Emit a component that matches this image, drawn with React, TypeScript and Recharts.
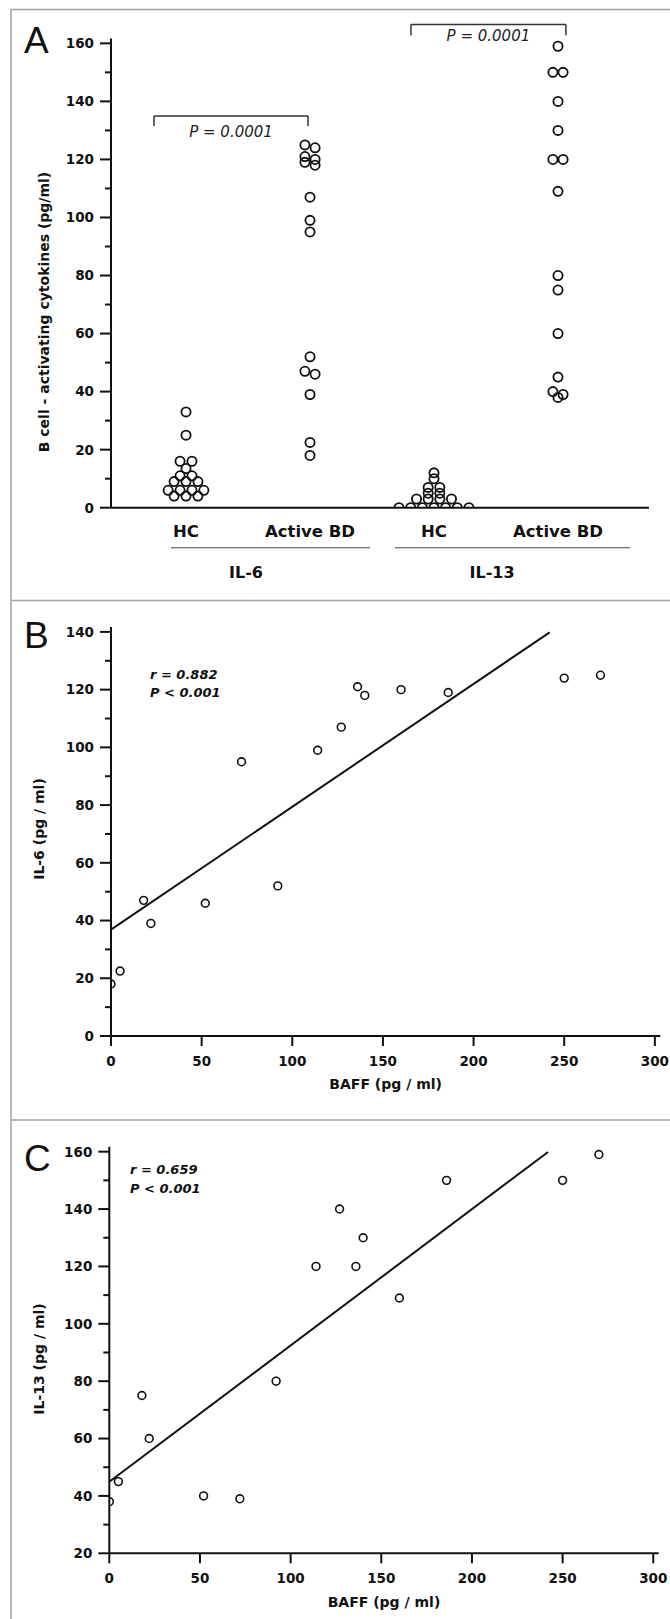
import React from 'react';
import {
  ScatterChart,
  Scatter,
  XAxis,
  YAxis,
  ReferenceLine,
  ReferenceDot,
} from 'recharts';

// panel A groups
const GROUP_LABELS = ['HC', 'Active BD', 'HC', 'Active BD'];
const CYTOKINES = ['IL-6', 'IL-13'];
const P_LABELS = ['P = 0.0001', 'P = 0.0001'];

// healthy controls (pg/ml)
const IL6_HC = [33, 25, 16, 16, 13.5, 11, 11, 9, 9, 9, 6, 6, 6, 6, 4, 4, 4];
const IL13_HC = [12, 10, 7, 7, 5, 5, 3, 3, 3, 3, 0, 0, 0, 0, 0, 0, 0];

// active BD patients, same order in every array
const BAFF = [0, 5, 18, 22, 52, 72, 92, 114, 127, 136, 140, 160, 186, 250, 270];
const IL6_BD = [18, 22.5, 47, 39, 46, 95, 52, 99, 107, 121, 118, 120, 119, 124, 125];
const IL13_BD = [38, 45, 75, 60, 40, 39, 80, 120, 140, 120, 130, 109, 150, 150, 159];

const STATS_B = ['r = 0.882', 'P < 0.001'];
const STATS_C = ['r = 0.659', 'P < 0.001'];

const TICKS_A = [0, 10, 20, 30, 40, 50, 60, 70, 80, 90, 100, 110, 120, 130, 140, 150, 160];
const TICKS_B = [0, 10, 20, 30, 40, 50, 60, 70, 80, 90, 100, 110, 120, 130, 140];
const TICKS_C = [20, 30, 40, 50, 60, 70, 80, 90, 100, 110, 120, 130, 140, 150, 160];
const TICKS_BAFF = [0, 50, 100, 150, 200, 250, 300];
const FIT_END = 242;

const FONT = '"DejaVu Sans", Arial, sans-serif';
const INK = '#111';

// rows of close values are spread side by side, centred on the group
function swarm(values: number[], group: number, step: number, tol = 2) {
  const sorted = [...values].sort((a, b) => b - a);
  const rows: number[][] = [];
  for (const v of sorted) {
    const row = rows[rows.length - 1];
    if (row && row[0] - v < tol) row.push(v);
    else rows.push([v]);
  }
  return rows.flatMap((row) =>
    row.map((v, i) => ({ x: group + (i - (row.length - 1) / 2) * step, y: v }))
  );
}

function fit(xs: number[], ys: number[]) {
  const n = xs.length;
  const mx = xs.reduce((s, v) => s + v, 0) / n;
  const my = ys.reduce((s, v) => s + v, 0) / n;
  let sxy = 0;
  let sxx = 0;
  xs.forEach((x, i) => {
    sxy += (x - mx) * (ys[i] - my);
    sxx += (x - mx) * (x - mx);
  });
  const b = sxy / sxx;
  return { a: my - b * mx, b };
}

const panelA = [
  ...swarm(IL6_HC, 1, 0.096),
  ...swarm(IL6_BD, 2, 0.082),
  ...swarm(IL13_HC, 3, 0.094),
  ...swarm(IL13_BD, 4, 0.082),
];
const panelB = BAFF.map((x, i) => ({ x, y: IL6_BD[i] }));
const panelC = BAFF.map((x, i) => ({ x, y: IL13_BD[i] }));
const fitB = fit(BAFF, IL6_BD);
const fitC = fit(BAFF, IL13_BD);

const YTick = (props: any) => {
  const { x, y, payload } = props;
  const v = payload.value;
  const major = v % 20 === 0;
  return (
    <g>
      <line x1={x - (major ? 11 : 6)} x2={x} y1={y} y2={y} stroke="#111" strokeWidth={2} />
      {major && (
        <text
          x={x - 17}
          y={y}
          dy="0.36em"
          textAnchor="end"
          fill={INK}
          fontSize={13.5}
          fontWeight="bold"
          fontFamily={FONT}
        >
          {v}
        </text>
      )}
    </g>
  );
};

const GroupTick = (props: any) => {
  const { x, y, payload } = props;
  return (
    <text
      x={x}
      y={y + 29}
      textAnchor="middle"
      fill={INK}
      fontSize={16.5}
      fontWeight="bold"
      fontFamily={FONT}
    >
      {GROUP_LABELS[payload.value - 1]}
    </text>
  );
};

const circleShape = (r: number, w: number) => (props: any) => (
  <circle cx={props.cx} cy={props.cy} r={r} fill="none" stroke={INK} strokeWidth={w} />
);

const axisLine = { stroke: '#111', strokeWidth: 2 };
const tickText = { fill: INK, fontSize: 13.5, fontWeight: 'bold', fontFamily: FONT };
const pLabel = (value: string, offset: number) => ({
  value,
  position: 'bottom' as const,
  offset,
  fill: '#222',
  fontSize: 15,
  fontStyle: 'italic',
  fontFamily: FONT,
});
const groupLabel = (value: string) => ({
  value,
  position: 'center' as const,
  fill: INK,
  fontSize: 16,
  fontWeight: 'bold',
  fontFamily: FONT,
});

export default function App() {
  const border = '#a3a3a3';
  return (
    <div
      style={{
        position: 'absolute',
        left: 0,
        top: 0,
        width: 670,
        height: 1619,
        background: '#fff',
        overflow: 'hidden',
      }}
    >
      <svg
        width={670}
        height={1619}
        style={{ position: 'absolute', left: 0, top: 0 }}
        fontFamily={FONT}
      >
        <line x1={11} x2={11} y1={9.5} y2={1619} stroke={border} strokeWidth={1.5} />
        <line x1={11} x2={670} y1={9.5} y2={9.5} stroke={border} strokeWidth={1.5} />
        <line x1={11} x2={670} y1={600.5} y2={600.5} stroke={border} strokeWidth={1.5} />
        <line x1={11} x2={670} y1={1120} y2={1120} stroke={border} strokeWidth={1.5} />

        <text x={24} y={53} fontSize={37} fontFamily='"Liberation Sans", Arial' fill="#111">A</text>
        <text x={24} y={648} fontSize={37} fontFamily='"Liberation Sans", Arial' fill="#111">B</text>
        <text x={24} y={1171} fontSize={37} fontFamily='"Liberation Sans", Arial' fill="#111">C</text>

        <text
          transform="translate(44,312) rotate(-90)"
          dy="0.36em"
          textAnchor="middle"
          fontSize={14}
          fontWeight="bold"
          fill={INK}
        >
          B cell - activating cytokines (pg/ml)
        </text>
        <text
          transform="translate(39,829) rotate(-90)"
          dy="0.36em"
          textAnchor="middle"
          fontSize={14}
          fontWeight="bold"
          fill={INK}
        >
          IL-6 (pg / ml)
        </text>
        <text
          transform="translate(39,1359) rotate(-90)"
          dy="0.36em"
          textAnchor="middle"
          fontSize={14}
          fontWeight="bold"
          fill={INK}
        >
          IL-13 (pg / ml)
        </text>

        <g fontSize={13} fontWeight="bold" fontStyle="italic" fill={INK}>
          <text x={150} y={679}>{STATS_B[0]}</text>
          <text x={150} y={697}>{STATS_B[1]}</text>
          <text x={130} y={1174}>{STATS_C[0]}</text>
          <text x={130} y={1193}>{STATS_C[1]}</text>
        </g>
      </svg>

      {/* A */}
      <div style={{ position: 'absolute', left: 0, top: 0 }}>
        <ScatterChart
          width={670}
          height={600}
          margin={{ top: 38.4, right: 21, bottom: 62.3, left: 51 }}
        >
          <XAxis
            type="number"
            dataKey="x"
            domain={[0.395, 4.734]}
            allowDataOverflow
            ticks={[1, 2, 3, 4]}
            height={30}
            axisLine={axisLine}
            tickLine={false}
            tickSize={0}
            tickMargin={0}
            tick={GroupTick}
          />
          <YAxis
            type="number"
            dataKey="y"
            domain={[0, 161.7]}
            allowDataOverflow
            ticks={TICKS_A}
            interval={0}
            width={60}
            axisLine={axisLine}
            tickLine={false}
            tickSize={0}
            tickMargin={0}
            tick={YTick}
          />
          <Scatter data={panelA} shape={circleShape(4.6, 1.8)} isAnimationActive={false} />

          <ReferenceLine
            segment={[{ x: 0.742, y: 135 }, { x: 1.984, y: 135 }]}
            stroke="#333"
            strokeWidth={1.5}
            ifOverflow="visible"
            label={pLabel(P_LABELS[0], 10)}
          />
          <ReferenceLine segment={[{ x: 0.742, y: 135 }, { x: 0.742, y: 131.5 }]} stroke="#333" strokeWidth={1.5} ifOverflow="visible" />
          <ReferenceLine segment={[{ x: 1.984, y: 135 }, { x: 1.984, y: 131.5 }]} stroke="#333" strokeWidth={1.5} ifOverflow="visible" />

          <ReferenceLine
            segment={[{ x: 2.814, y: 166.5 }, { x: 4.064, y: 166.5 }]}
            stroke="#333"
            strokeWidth={1.5}
            ifOverflow="visible"
            label={pLabel(P_LABELS[1], 6)}
          />
          <ReferenceLine segment={[{ x: 2.814, y: 166.5 }, { x: 2.814, y: 162.8 }]} stroke="#333" strokeWidth={1.5} ifOverflow="visible" />
          <ReferenceLine segment={[{ x: 4.064, y: 166.5 }, { x: 4.064, y: 162.8 }]} stroke="#333" strokeWidth={1.5} ifOverflow="visible" />

          <ReferenceLine segment={[{ x: 0.879, y: -13.8 }, { x: 2.484, y: -13.8 }]} stroke="#444" strokeWidth={1.2} ifOverflow="visible" />
          <ReferenceLine segment={[{ x: 2.685, y: -13.8 }, { x: 4.58, y: -13.8 }]} stroke="#444" strokeWidth={1.2} ifOverflow="visible" />
          <ReferenceDot x={1.484} y={-22.15} r={0} fill="none" stroke="none" ifOverflow="visible" label={groupLabel(CYTOKINES[0])} />
          <ReferenceDot x={3.468} y={-22.15} r={0} fill="none" stroke="none" ifOverflow="visible" label={groupLabel(CYTOKINES[1])} />
        </ScatterChart>
      </div>

      {/* B */}
      <div style={{ position: 'absolute', left: 0, top: 600 }}>
        <ScatterChart
          width={670}
          height={520}
          margin={{ top: 27, right: 9.7, bottom: 44, left: 51 }}
        >
          <XAxis
            type="number"
            dataKey="x"
            domain={[0, 303]}
            allowDataOverflow
            ticks={TICKS_BAFF}
            height={40}
            axisLine={axisLine}
            tickLine={axisLine}
            tickSize={10}
            tickMargin={10}
            tick={tickText}
            label={{
              value: 'BAFF (pg / ml)',
              position: 'bottom',
              offset: 2.6,
              fill: INK,
              fontSize: 14,
              fontWeight: 'bold',
              fontFamily: FONT,
            }}
          />
          <YAxis
            type="number"
            dataKey="y"
            domain={[0, 141.7]}
            allowDataOverflow
            ticks={TICKS_B}
            interval={0}
            width={60}
            axisLine={axisLine}
            tickLine={false}
            tickSize={0}
            tickMargin={0}
            tick={YTick}
          />
          <ReferenceLine
            segment={[
              { x: 0, y: fitB.a },
              { x: FIT_END, y: fitB.a + fitB.b * FIT_END },
            ]}
            stroke="#111"
            strokeWidth={2}
            ifOverflow="visible"
          />
          <Scatter data={panelB} shape={circleShape(3.9, 1.6)} isAnimationActive={false} />
        </ScatterChart>
      </div>

      {/* C */}
      <div style={{ position: 'absolute', left: 0, top: 1120 }}>
        <ScatterChart
          width={670}
          height={499}
          margin={{ top: 26.8, right: 11.3, bottom: 25.7, left: 49.3 }}
        >
          <XAxis
            type="number"
            dataKey="x"
            domain={[0, 303]}
            allowDataOverflow
            ticks={TICKS_BAFF}
            height={40}
            axisLine={axisLine}
            tickLine={axisLine}
            tickSize={10}
            tickMargin={10}
            tick={tickText}
            label={{
              value: 'BAFF (pg / ml)',
              position: 'bottom',
              offset: 3.8,
              fill: INK,
              fontSize: 14,
              fontWeight: 'bold',
              fontFamily: FONT,
            }}
          />
          <YAxis
            type="number"
            dataKey="y"
            domain={[20, 161.7]}
            allowDataOverflow
            ticks={TICKS_C}
            interval={0}
            width={60}
            axisLine={axisLine}
            tickLine={false}
            tickSize={0}
            tickMargin={0}
            tick={YTick}
          />
          <ReferenceLine
            segment={[
              { x: 0, y: fitC.a },
              { x: FIT_END, y: fitC.a + fitC.b * FIT_END },
            ]}
            stroke="#111"
            strokeWidth={2}
            ifOverflow="visible"
          />
          <Scatter data={panelC} shape={circleShape(3.9, 1.6)} isAnimationActive={false} />
        </ScatterChart>
      </div>
    </div>
  );
}
